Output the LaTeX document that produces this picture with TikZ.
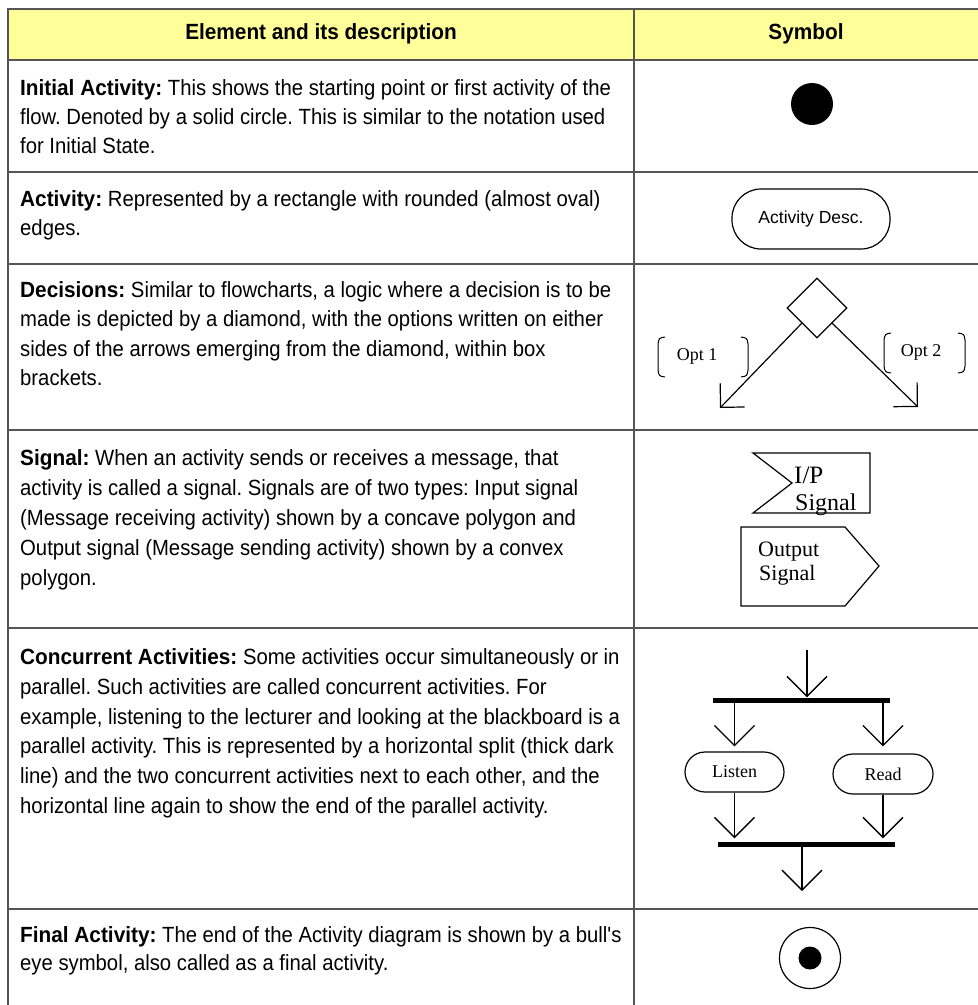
\documentclass[tikz,border=0pt]{standalone}
\usepackage{fontspec}
\setmainfont{Liberation Sans}
\newfontfamily\descfont[FakeStretch=0.922]{Liberation Sans}
\newfontfamily\descbold[FakeStretch=0.945]{Liberation Sans}
\newfontfamily\symserif{Liberation Serif}
\newcommand{\lead}[1]{{\descbold\bfseries #1}}
\usetikzlibrary{arrows.meta,shapes.geometric}

\definecolor{hdrfill}{HTML}{FFFF99}
\definecolor{rulegray}{HTML}{555555}

\tikzset{
  rule/.style={draw=rulegray, line width=2.2pt},
  txt/.style={anchor=base west, inner sep=0pt, font=\descfont\frenchspacing\fontsize{22}{26}\selectfont},
  hdr/.style={inner sep=0pt, font=\descbold\bfseries\fontsize{22}{26}\selectfont},
  symline/.style={draw=black, line width=1.2pt},
  pill/.style={draw=black, line width=1.2pt, rectangle, inner sep=0pt},
  serif18/.style={inner sep=0pt, font=\symserif\fontsize{18}{20}\selectfont},
  sigtext/.style={anchor=base west, inner sep=0pt, font=\symserif\fontsize{22}{24}\selectfont},
  openarrow/.style={draw=black, line width=1.2pt, -{Straight Barb[length=17pt,width=34pt]}},
  flowarrow/.style={draw=black, line width=1.3pt, -{Straight Barb[length=20pt,width=40pt]}},
  syncbar/.style={rectangle, fill=black, inner sep=0pt, minimum width=177pt, minimum height=5pt}
}

\begin{document}
\begin{tikzpicture}[x=1pt,y=-1pt]
\useasboundingbox (0,0) rectangle (978,1005);

% header band
\fill[hdrfill] (8,9) rectangle (978,60);

% table rules
\foreach \yy in {9,60,172,264,430,628,909}
  \draw[rule] (8,\yy) -- (978,\yy);
\draw[rule] (8,8) -- (8,1005);
\draw[rule] (634,8) -- (634,1005);

% header labels
\node[hdr] (h1) at (321,34) {Element and its description};
\node[hdr] (h2) at (806,34) {Symbol};

% descriptions
\node[txt] (r1a) at (20,95)  {\lead{Initial Activity:} This shows the starting point or first activity of the};
\node[txt] (r1b) at (20,124) {flow. Denoted by a solid circle. This is similar to the notation used};
\node[txt] (r1c) at (20,153) {for Initial State.};

\node[txt] (r2a) at (20,206) {\lead{Activity:} Represented by a rectangle with rounded (almost oval)};
\node[txt] (r2b) at (20,235) {edges.};

\node[txt] (r3a) at (20,297) {\lead{Decisions:} Similar to flowcharts, a logic where a decision is to be};
\node[txt] (r3b) at (20,326) {made is depicted by a diamond, with the options written on either};
\node[txt] (r3c) at (20,356) {sides of the arrows emerging from the diamond, within box};
\node[txt] (r3d) at (20,385) {brackets.};

\node[txt] (r4a) at (20,465) {\lead{Signal:} When an activity sends or receives a message, that};
\node[txt] (r4b) at (20,495) {activity is called a signal. Signals are of two types: Input signal};
\node[txt] (r4c) at (20,525) {(Message receiving activity) shown by a concave polygon and};
\node[txt] (r4d) at (20,555) {Output signal (Message sending activity) shown by a convex};
\node[txt] (r4e) at (20,585) {polygon.};

\node[txt] (r5a) at (20,664) {\lead{Concurrent Activities:} Some activities occur simultaneously or in};
\node[txt] (r5b) at (20,694) {parallel. Such activities are called concurrent activities. For};
\node[txt] (r5c) at (20,724) {example, listening to the lecturer and looking at the blackboard is a};
\node[txt] (r5d) at (20,753) {parallel activity. This is represented by a horizontal split (thick dark};
\node[txt] (r5e) at (20,783) {line) and the two concurrent activities next to each other, and the};
\node[txt] (r5f) at (20,813) {horizontal line again to show the end of the parallel activity.};

\node[txt] (r6a) at (20,942) {\lead{Final Activity:} The end of the Activity diagram is shown by a bull's};
\node[txt] (r6b) at (20,970) {eye symbol, also called as a final activity.};

% initial activity
\node[circle, fill=black, minimum size=42pt, inner sep=0pt] (init) at (812,104) {};

% activity
\node[pill, rounded corners=29pt, minimum width=158pt, minimum height=60pt,
      font=\fontsize{17.5}{20}\selectfont] (act) at (811,219) {Activity Desc.};

% decision
\node[diamond, draw=black, line width=1.2pt, minimum size=60pt, inner sep=0pt] (dec) at (817,308) {};
\coordinate (opt1end) at (720,408);
\coordinate (opt2end) at (918,407);
\draw[openarrow] (dec.south west) -- (opt1end);
\draw[openarrow] (dec.south east) -- (opt2end);
\node[serif18] (opt1) at (697,356) {Opt 1};
\node[serif18] (opt2) at (921,352) {Opt 2};
% bracket pairs around the options
\draw[symline, line width=1pt] (665,337) .. controls (659,338) .. (658,344) -- (658,370) .. controls (659,376) .. (665,377);
\draw[symline, line width=1pt] (741,337) .. controls (747,338) .. (748,344) -- (748,370) .. controls (747,376) .. (741,377);
\draw[symline, line width=1pt] (891,333) .. controls (885,334) .. (884,340) -- (884,366) .. controls (885,372) .. (891,373);
\draw[symline, line width=1pt] (958,333) .. controls (964,334) .. (965,340) -- (965,366) .. controls (964,372) .. (958,373);

% input signal (concave) and output signal (convex)
\draw[symline] (753,453) -- (870,453) -- (870,513) -- (753,513) -- (792,483) -- cycle;
\node[sigtext, font=\symserif\fontsize{25}{27}\selectfont] (ip1) at (794,483) {I/P};
\node[sigtext, font=\symserif\fontsize{24}{27}\selectfont] (ip2) at (795,510) {Signal};
\draw[symline] (741,527) -- (845,527) -- (879,566) -- (845,606) -- (741,606) -- cycle;
\node[sigtext] (out1) at (758,556) {Output};
\node[sigtext] (out2) at (759,580) {Signal};

% concurrent activities
\coordinate (cin) at (807,650);
\node[syncbar] (fork) at (801.5,700) {};
\node[pill, rounded corners=20pt, minimum width=99pt, minimum height=40pt, font=\symserif\fontsize{18}{20}\selectfont] (listen) at (734.5,772) {Listen};
\node[pill, rounded corners=20pt, minimum width=100pt, minimum height=40pt, font=\symserif\fontsize{18}{20}\selectfont] (read) at (883,774) {Read};
\node[syncbar] (join) at (806.5,844) {};
\coordinate (cout) at (802,891);

\draw[flowarrow] (cin) -- (cin |- fork.north);
\draw[flowarrow, shorten >=5pt] (fork.south -| listen.north) -- (listen.north);
\draw[flowarrow, shorten >=7pt] (fork.south -| read.north) -- (read.north);
\draw[flowarrow, shorten >=3pt] (listen.south) -- (listen.south |- join.north);
\draw[flowarrow, shorten >=3pt] (read.south) -- (read.south |- join.north);
\draw[flowarrow] (join.south -| cout) -- (cout);

% final activity
\node[circle, draw=black, line width=1.2pt, minimum size=61pt, inner sep=0pt] (final) at (810,958) {};
\node[circle, fill=black, minimum size=23pt, inner sep=0pt] (finaldot) at (final.center) {};

\end{tikzpicture}
\end{document}
